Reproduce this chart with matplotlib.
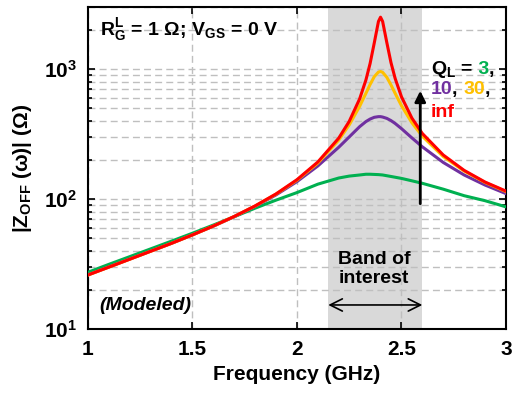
import matplotlib
matplotlib.use("Agg")
from matplotlib import pyplot as plt
from matplotlib.offsetbox import TextArea, HPacker, AnnotationBbox

# fonts: bold Arial-like everywhere, mathtext too
plt.rcParams['font.family'] = ['Liberation Sans', 'DejaVu Sans']
plt.rcParams['font.weight'] = 'bold'
plt.rcParams['mathtext.fontset'] = 'custom'
plt.rcParams['mathtext.rm'] = 'Liberation Sans:bold'
plt.rcParams['mathtext.it'] = 'Liberation Sans:bold:italic'
plt.rcParams['mathtext.bf'] = 'Liberation Sans:bold'


# Data (GHz, Ohm)
freq = [1.0, 1.1, 1.2, 1.3, 1.4, 1.5, 1.6, 1.7, 1.8, 1.9, 2.0, 2.1, 2.2, 2.25, 2.3,
        2.33, 2.35, 2.37, 2.39, 2.40, 2.41, 2.43, 2.45, 2.47, 2.5, 2.55, 2.6, 2.7,
        2.8, 2.9, 3.0]

z_q3 = [27.3, 31.4, 36.0, 41.3, 47.4, 54.5, 63.0, 73.0, 85.0, 98, 112, 130, 145, 150, 153,
        155, 155, 154.5, 154, 153.5, 153, 151, 149, 147, 144, 138, 132, 119,
        106, 97, 87]
z_q10 = [26.1, 30.0, 34.5, 39.7, 45.6, 53.0, 61.8, 73.0, 87.7, 107.5, 136, 179.5, 250, 300, 360,
         394, 412, 425, 430, 430, 427, 417, 401, 381, 348, 295, 252, 191,
         153, 128, 110]
z_q30 = [26.0, 29.9, 34.4, 39.6, 45.6, 52.9, 61.9, 73.3, 88.3, 109, 139.5, 189, 284, 371, 516,
         650, 760, 873, 948, 957, 943, 864, 754, 649, 523, 386, 304, 212,
         164, 134, 114]
z_qinf = [26.0, 29.9, 34.4, 39.6, 45.6, 52.9, 61.9, 73.4, 88.5, 109.4, 140.7, 192.6, 294, 395, 589,
          823, 1101, 1587, 2321, 2505, 2322, 1599, 1119, 845, 612, 419, 319, 218,
          166, 135, 115]

x_ticks = [1, 1.5, 2, 2.5, 3]
x_tick_labels = ['1', '1.5', '2', '2.5', '3']
band = [2.15, 2.6]

green = '#00B050'
purple = '#7030A0'
orange = '#FFC000'
red = '#FF0000'


fig = plt.figure(figsize=(5.2, 3.99), dpi=100)
ax = fig.add_axes([0.169, 0.1755, 0.804, 0.807])

ax.axvspan(band[0], band[1], color='#D9D9D9', zorder=0.2, lw=0)

ax.plot(freq, z_q3, color=green, lw=2.2, zorder=3)
ax.plot(freq, z_q10, color=purple, lw=2.2, zorder=3)
ax.plot(freq, z_q30, color=orange, lw=2.2, zorder=3)
ax.plot(freq, z_qinf, color=red, lw=2.2, zorder=3)

ax.set_yscale('log')
ax.set_xlim(1, 3)
ax.set_ylim(10, 3000)
ax.set_xticks(x_ticks)
ax.set_xticklabels(x_tick_labels)
ax.set_yticks([10, 100, 1000])
ax.set_yticklabels([r'$10^{1}$', r'$10^{2}$', r'$10^{3}$'])

ax.set_axisbelow(True)
ax.grid(True, which='major', axis='x', color='#BFBFBF', ls=(0, (5, 3)), lw=1)
ax.grid(True, which='both', axis='y', color='#BFBFBF', ls=(0, (5, 3)), lw=1)

ax.tick_params(which='both', direction='in', top=True, right=True, labelsize=15, width=1.2)
ax.tick_params(which='major', length=5, pad=8)
ax.tick_params(which='minor', length=3)
for s in ax.spines.values():
    s.set_linewidth(1.5)

ax.set_xlabel('Frequency (GHz)', fontsize=15, fontweight='bold', labelpad=4)
ax.set_ylabel(r'|Z$_{\mathregular{OFF}}$ (ω)| (Ω)', fontsize=15, fontweight='bold', labelpad=7)

# annotations
ax.text(0.03, 0.93, r'R$^{\mathregular{L}}_{\mathregular{G}}$ = 1 Ω; V$_{\mathregular{GS}}$ = 0 V',
        transform=ax.transAxes, fontsize=14, fontweight='bold', va='center', ha='left')
ax.text(0.027, 0.072, '(Modeled)', transform=ax.transAxes, fontsize=14,
        fontweight='bold', style='italic', va='center', ha='left')

ax.text(2.37, 29, 'Band of\ninterest', fontsize=14, fontweight='bold',
        ha='center', va='center', linespacing=1.2)
ax.annotate('', xy=(band[0], 15.3), xytext=(band[1], 15.3),
            arrowprops=dict(arrowstyle='<->', lw=1.2, color='black',
                            mutation_scale=22, shrinkA=0, shrinkB=0))

ax.annotate('', xy=(2.59, 680), xytext=(2.59, 92),
            arrowprops=dict(arrowstyle='-|>', lw=2, color='black',
                            mutation_scale=16, shrinkA=0, shrinkB=0), zorder=4)

# Q_L legend text, coloured word by word
ql_lines = [
    (1000, [('Q$_{\\mathregular{L}}$ =', 'black'), (' 3', green), (',', 'black')]),
    (690, [('10', purple), (', ', 'black'), ('30', orange), (',', 'black')]),
    (460, [('inf', red)]),
]
for yy, pieces in ql_lines:
    areas = [TextArea(t, textprops=dict(color=c, fontsize=14, fontweight='bold')) for t, c in pieces]
    box = HPacker(children=areas, align='baseline', pad=0, sep=0)
    ab = AnnotationBbox(box, (2.64, yy), frameon=False, box_alignment=(0, 0.5), pad=0)
    ax.add_artist(ab)

plt.savefig('out.png', dpi=100)
